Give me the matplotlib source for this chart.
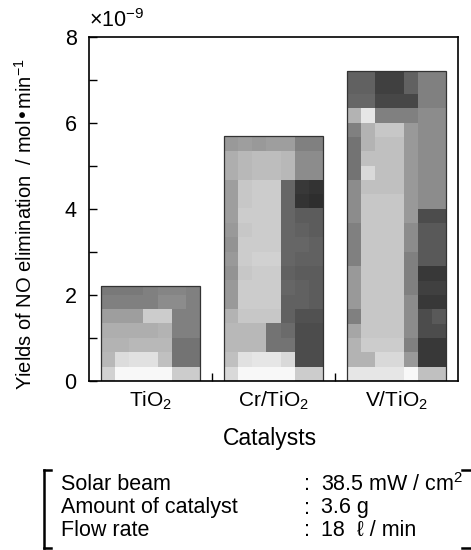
import matplotlib
matplotlib.use('agg')
import matplotlib.pyplot as plt
import numpy as np

plt.rcParams['font.family'] = ['Liberation Sans', 'DejaVu Sans']
plt.rcParams['mathtext.default'] = 'regular'
plt.rcParams['font.size'] = 15

catalysts = ['TiO$_2$', 'Cr/TiO$_2$', 'V/TiO$_2$']
yields = [2.2, 5.7, 7.2]   # x 1e-9 mol/min

# grey-level texture inside each bar (rows bottom -> top, 7 columns, 1 row = 1/3 unit)
tex_tio2 = [
    [0.82, 0.97, 0.97, 0.97, 0.97, 0.80, 0.80],
    [0.72, 0.86, 0.88, 0.88, 0.75, 0.45, 0.45],
    [0.70, 0.70, 0.72, 0.72, 0.72, 0.45, 0.45],
    [0.68, 0.68, 0.68, 0.68, 0.70, 0.50, 0.50],
    [0.62, 0.62, 0.62, 0.80, 0.80, 0.50, 0.50],
    [0.50, 0.50, 0.50, 0.50, 0.55, 0.55, 0.50],
    [0.48, 0.48, 0.48, 0.50, 0.52, 0.52, 0.50],
]
tex_cr = [
    [0.85, 0.97, 0.97, 0.97, 0.97, 0.80, 0.80],
    [0.75, 0.88, 0.90, 0.90, 0.85, 0.30, 0.30],
    [0.72, 0.72, 0.72, 0.45, 0.45, 0.30, 0.30],
    [0.72, 0.72, 0.72, 0.45, 0.42, 0.30, 0.30],
    [0.70, 0.78, 0.78, 0.78, 0.38, 0.32, 0.32],
    [0.60, 0.80, 0.80, 0.80, 0.38, 0.38, 0.36],
    [0.60, 0.80, 0.80, 0.80, 0.40, 0.38, 0.36],
    [0.58, 0.78, 0.80, 0.80, 0.38, 0.36, 0.36],
    [0.60, 0.80, 0.82, 0.82, 0.40, 0.38, 0.38],
    [0.58, 0.80, 0.80, 0.80, 0.40, 0.40, 0.38],
    [0.60, 0.78, 0.80, 0.80, 0.40, 0.38, 0.36],
    [0.62, 0.80, 0.80, 0.80, 0.40, 0.36, 0.36],
    [0.62, 0.78, 0.80, 0.80, 0.40, 0.20, 0.18],
    [0.62, 0.78, 0.80, 0.80, 0.40, 0.22, 0.20],
    [0.68, 0.72, 0.74, 0.74, 0.72, 0.55, 0.55],
    [0.68, 0.72, 0.74, 0.74, 0.72, 0.55, 0.55],
    [0.60, 0.62, 0.60, 0.62, 0.62, 0.50, 0.50],
    [0.58, 0.60, 0.60, 0.60, 0.60, 0.50, 0.50],
]
tex_v = [
    [0.90, 0.90, 0.90, 0.90, 0.97, 0.75, 0.75],
    [0.70, 0.70, 0.85, 0.85, 0.60, 0.22, 0.22],
    [0.70, 0.80, 0.80, 0.80, 0.50, 0.22, 0.22],
    [0.65, 0.78, 0.78, 0.78, 0.55, 0.30, 0.30],
    [0.50, 0.78, 0.78, 0.78, 0.55, 0.30, 0.35],
    [0.60, 0.78, 0.78, 0.78, 0.55, 0.22, 0.22],
    [0.60, 0.78, 0.78, 0.78, 0.50, 0.25, 0.25],
    [0.60, 0.78, 0.78, 0.78, 0.50, 0.22, 0.22],
    [0.50, 0.78, 0.78, 0.78, 0.50, 0.35, 0.35],
    [0.50, 0.78, 0.78, 0.78, 0.55, 0.35, 0.35],
    [0.50, 0.78, 0.78, 0.78, 0.55, 0.35, 0.35],
    [0.55, 0.78, 0.78, 0.78, 0.60, 0.30, 0.30],
    [0.55, 0.78, 0.78, 0.78, 0.60, 0.55, 0.55],
    [0.55, 0.75, 0.75, 0.75, 0.60, 0.55, 0.55],
    [0.45, 0.85, 0.75, 0.75, 0.60, 0.55, 0.55],
    [0.45, 0.75, 0.75, 0.75, 0.60, 0.55, 0.55],
    [0.45, 0.70, 0.75, 0.75, 0.60, 0.55, 0.55],
    [0.50, 0.70, 0.78, 0.78, 0.60, 0.55, 0.55],
    [0.70, 0.90, 0.50, 0.50, 0.50, 0.55, 0.55],
    [0.40, 0.40, 0.28, 0.28, 0.28, 0.50, 0.50],
    [0.38, 0.38, 0.25, 0.25, 0.38, 0.50, 0.50],
    [0.38, 0.38, 0.25, 0.25, 0.38, 0.50, 0.50],
]
textures = [tex_tio2, tex_cr, tex_v]

conditions = ['Solar beam', 'Amount of catalyst', 'Flow rate']
cond_values = ['38.5 mW / cm$^2$', '3.6 g', '18  \u2113 / min']

fig = plt.figure(figsize=(4.71, 5.5), dpi=100)
ax = fig.add_axes([89/471, 1 - 381/550, 369/471, 344/550])

x = np.arange(len(catalysts))
bars = ax.bar(x, yields, width=0.8, color='0.7', edgecolor='0.2', linewidth=0.9, zorder=2)
for b, tex in zip(bars, textures):
    t = np.array(tex)
    x0 = b.get_x()
    im = ax.imshow(t, cmap='gray', vmin=0, vmax=1, origin='lower', interpolation='nearest',
                   extent=[x0, x0 + b.get_width(), 0, len(t) / 3.0], aspect='auto', zorder=1)
    im.set_clip_path(b)
    b.set_facecolor('none')

ax.set_xlim(-0.5, 2.5)
ax.set_ylim(0, 8)
ax.set_yticks([0, 2, 4, 6, 8])
ax.set_yticks([1, 3, 5, 7], minor=True)
ax.set_xticks([0.5, 1.5])
ax.set_xticklabels([])
ax.tick_params(axis='both', which='both', direction='in', length=6, width=1, labelsize=15.5)
ax.tick_params(axis='y', pad=9)
for s in ax.spines.values():
    s.set_linewidth(1.2)

for xi, lab in zip(x, catalysts):
    ax.text(xi, -0.2, lab, ha='center', va='top', fontsize=15)
fig.text(270/471, 1 - 439/550, 'Catalysts', ha='center', va='center', fontsize=16.5)
ax.text(-0.5, 8.12, '\u00d710$^{-9}$', ha='left', va='bottom', fontsize=15.5)

fig.text(25/471, 1 - 224/550, 'Yields of NO elimination  / mol\u2022min$^{-1}$',
         rotation=90, ha='center', va='center', fontsize=14.5)

# experimental conditions box
ys = [485, 508, 530]
for yy, c, v in zip(ys, conditions, cond_values):
    fig.text(61/471, 1 - yy/550, c, ha='left', va='center', fontsize=15.5)
    fig.text(304/471, 1 - yy/550, ':', ha='left', va='center', fontsize=15.5)
    fig.text(321/471, 1 - yy/550, v, ha='left', va='center', fontsize=15.5)

fx = lambda p: p / 471
fy = lambda p: 1 - p / 550
fig.add_artist(plt.Line2D([fx(44), fx(44)], [fy(470), fy(548)], color='k', lw=1.8))
fig.add_artist(plt.Line2D([fx(44), fx(51)], [fy(470), fy(470)], color='k', lw=1.8))
fig.add_artist(plt.Line2D([fx(44), fx(51)], [fy(548), fy(548)], color='k', lw=1.8))
fig.add_artist(plt.Line2D([fx(462), fx(471)], [fy(470), fy(470)], color='k', lw=1.8))
fig.add_artist(plt.Line2D([fx(462), fx(471)], [fy(548), fy(548)], color='k', lw=1.8))

fig.savefig('out.png', dpi=100)
